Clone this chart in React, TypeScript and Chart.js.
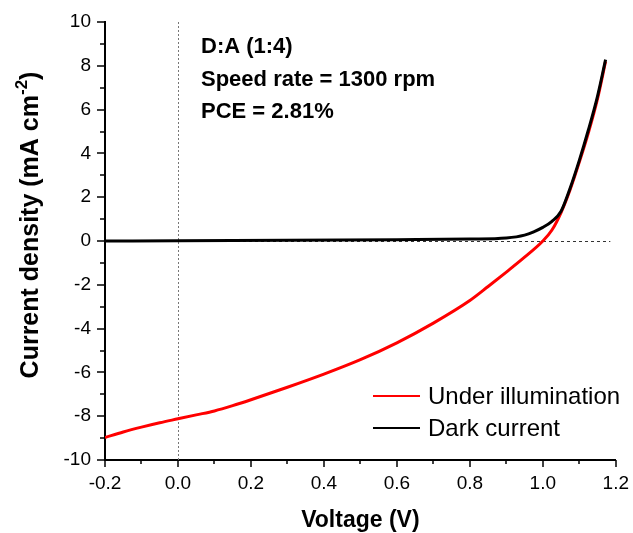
import React, { useEffect, useRef } from 'react';
import { Chart, registerables } from 'chart.js';

Chart.register(...registerables);

const FONT = '"Liberation Sans", Arial, Helvetica, sans-serif';

// Under illumination J-V curve
const illumVoltage = [-0.2, -0.15, -0.1, -0.05, 0, 0.05, 0.1, 0.15, 0.2, 0.3, 0.4, 0.5, 0.6, 0.7, 0.8, 0.85, 0.9, 0.95, 1.0, 1.025, 1.05, 1.075, 1.1, 1.125, 1.15, 1.172];
const illumCurrent = [-8.97, -8.72, -8.5, -8.3, -8.12, -7.94, -7.76, -7.52, -7.25, -6.68, -6.08, -5.42, -4.65, -3.75, -2.72, -2.08, -1.42, -0.74, 0.0, 0.5, 1.3, 2.35, 3.6, 4.95, 6.5, 8.2];

// Dark current J-V curve
const darkVoltage = [-0.2, 0, 0.3, 0.6, 0.8, 0.9, 0.95, 0.975, 1.0, 1.025, 1.05, 1.075, 1.1, 1.125, 1.15, 1.172];
const darkCurrent = [0, 0.01, 0.03, 0.06, 0.09, 0.14, 0.27, 0.42, 0.62, 0.9, 1.36, 2.42, 3.68, 5.08, 6.62, 8.28];

const seriesLabels = ['Under illumination', 'Dark current'];
const annotationLines = ['D:A (1:4)', 'Speed rate = 1300 rpm', 'PCE = 2.81%'];
const xTitle = 'Voltage (V)';
const yTitleMain = 'Current density (mA cm';
const yTitleSup = '-2';
const yTitleEnd = ')';

const X_MIN = -0.2, X_MAX = 1.2, X_STEP = 0.2;
const Y_MIN = -10, Y_MAX = 10, Y_STEP = 2;

const decorPlugin = {
  id: 'decor',
  beforeDatasetsDraw(chart: any) {
    const { ctx, chartArea, scales } = chart;
    const xs = scales.x, ys = scales.y;
    ctx.save();
    ctx.lineWidth = 1;
    ctx.strokeStyle = '#777';
    ctx.setLineDash([2, 2]);
    const x0 = Math.round(xs.getPixelForValue(0)) + 0.5;
    ctx.beginPath();
    ctx.moveTo(x0, chartArea.top);
    ctx.lineTo(x0, chartArea.bottom);
    ctx.stroke();
    ctx.strokeStyle = '#333';
    ctx.setLineDash([3, 3]);
    const y0 = Math.round(ys.getPixelForValue(0)) + 0.5;
    ctx.beginPath();
    ctx.moveTo(chartArea.left, y0);
    ctx.lineTo(xs.getPixelForValue(1.185), y0);
    ctx.stroke();
    ctx.restore();
  },
  afterDraw(chart: any) {
    const { ctx, chartArea, scales } = chart;
    const xs = scales.x, ys = scales.y;
    ctx.save();
    ctx.strokeStyle = '#000';
    ctx.lineWidth = 1.5;
    ctx.setLineDash([]);
    const nx = Math.round((X_MAX - X_MIN) / (X_STEP / 2));
    for (let i = 0; i <= nx; i++) {
      const v = X_MIN + i * (X_STEP / 2);
      const px = Math.round(xs.getPixelForValue(v));
      const len = i % 2 === 0 ? 7 : 4;
      ctx.beginPath();
      ctx.moveTo(px, chartArea.bottom);
      ctx.lineTo(px, chartArea.bottom + len);
      ctx.stroke();
    }
    const ny = Math.round((Y_MAX - Y_MIN) / (Y_STEP / 2));
    for (let i = 0; i <= ny; i++) {
      const v = Y_MIN + i * (Y_STEP / 2);
      const py = Math.round(ys.getPixelForValue(v));
      const len = i % 2 === 0 ? 8 : 5;
      ctx.beginPath();
      ctx.moveTo(chartArea.left, py);
      ctx.lineTo(chartArea.left - len, py);
      ctx.stroke();
    }

    ctx.fillStyle = '#000';
    ctx.font = `bold 23px ${FONT}`;
    ctx.textAlign = 'center';
    ctx.textBaseline = 'middle';
    ctx.fillText(xTitle, (chartArea.left + chartArea.right) / 2, 521);

    ctx.save();
    ctx.translate(31, 225);
    ctx.rotate(-Math.PI / 2);
    const mainFont = `bold 25px ${FONT}`;
    const supFont = `bold 17px ${FONT}`;
    ctx.font = mainFont;
    const w1 = ctx.measureText(yTitleMain).width;
    const w3 = ctx.measureText(yTitleEnd).width;
    ctx.font = supFont;
    const w2 = ctx.measureText(yTitleSup).width;
    const total = w1 + w2 + w3;
    let cx = -total / 2;
    ctx.textAlign = 'left';
    ctx.textBaseline = 'middle';
    ctx.font = mainFont;
    ctx.fillText(yTitleMain, cx, 0);
    cx += w1;
    ctx.font = supFont;
    ctx.fillText(yTitleSup, cx, -9);
    cx += w2;
    ctx.font = mainFont;
    ctx.fillText(yTitleEnd, cx, 0);
    ctx.restore();

    ctx.font = `bold 22px ${FONT}`;
    ctx.textAlign = 'left';
    ctx.textBaseline = 'middle';
    annotationLines.forEach((t, i) => {
      ctx.fillText(t, 201, 47 + i * 32.5);
    });

    const ds = chart.data.datasets;
    const order = [1, 0];
    ctx.font = `24px ${FONT}`;
    order.forEach((di, i) => {
      const d = ds[di];
      const y = 396 + i * 32;
      ctx.strokeStyle = d.borderColor;
      ctx.lineWidth = 2;
      ctx.beginPath();
      ctx.moveTo(373, y);
      ctx.lineTo(420, y);
      ctx.stroke();
      ctx.fillStyle = '#000';
      ctx.fillText(d.label, 428, y + 1);
    });
    ctx.restore();
  },
};

export default function App() {
  const ref = useRef<HTMLCanvasElement | null>(null);
  useEffect(() => {
    if (!ref.current) return;
    const chart = new Chart(ref.current, {
      type: 'line',
      data: {
        datasets: [
          {
            label: seriesLabels[1],
            data: darkVoltage.map((v, i) => ({ x: v, y: darkCurrent[i] })),
            borderColor: '#000000',
            borderWidth: 3,
            pointRadius: 0,
            cubicInterpolationMode: 'monotone',
            fill: false,
          },
          {
            label: seriesLabels[0],
            data: illumVoltage.map((v, i) => ({ x: v, y: illumCurrent[i] })),
            borderColor: '#ff0000',
            borderWidth: 3,
            pointRadius: 0,
            cubicInterpolationMode: 'monotone',
            fill: false,
          },
        ],
      },
      options: {
        responsive: false,
        animation: false,
        events: [],
        layout: { padding: { top: 22, right: 14, left: 0, bottom: 0 } },
        plugins: { legend: { display: false }, tooltip: { enabled: false }, title: { display: false } },
        scales: {
          x: {
            type: 'linear',
            min: X_MIN,
            max: X_MAX,
            afterFit: (s: any) => { s.height = 73; },
            afterBuildTicks: (s: any) => {
              const t = [];
              for (let v = X_MIN; v <= X_MAX + 1e-9; v += X_STEP) t.push({ value: Math.round(v * 10) / 10 });
              s.ticks = t;
            },
            ticks: {
              color: '#000',
              font: { family: FONT, size: 19 },
              padding: 4,
              maxRotation: 0,
              autoSkip: false,
              callback: (v: any) => Number(v).toFixed(1),
            },
            grid: { display: true, drawOnChartArea: false, drawTicks: true, tickLength: 8, color: 'rgba(0,0,0,0)' },
            border: { display: true, color: '#000', width: 2 },
          },
          y: {
            type: 'linear',
            min: Y_MIN,
            max: Y_MAX,
            afterFit: (s: any) => { s.width = 105; },
            ticks: {
              stepSize: Y_STEP,
              color: '#000',
              font: { family: FONT, size: 19 },
              padding: 6,
              autoSkip: false,
              callback: (v: any) => String(v),
            },
            grid: { display: true, drawOnChartArea: false, drawTicks: true, tickLength: 8, color: 'rgba(0,0,0,0)' },
            border: { display: true, color: '#000', width: 2 },
          },
        },
      },
      plugins: [decorPlugin],
    } as any);
    return () => chart.destroy();
  }, []);
  return (
    <div style={{ position: 'absolute', left: 0, top: 0, width: 633, height: 533, background: '#fff' }}>
      <canvas ref={ref} width={633} height={533} style={{ display: 'block' }} />
    </div>
  );
}
